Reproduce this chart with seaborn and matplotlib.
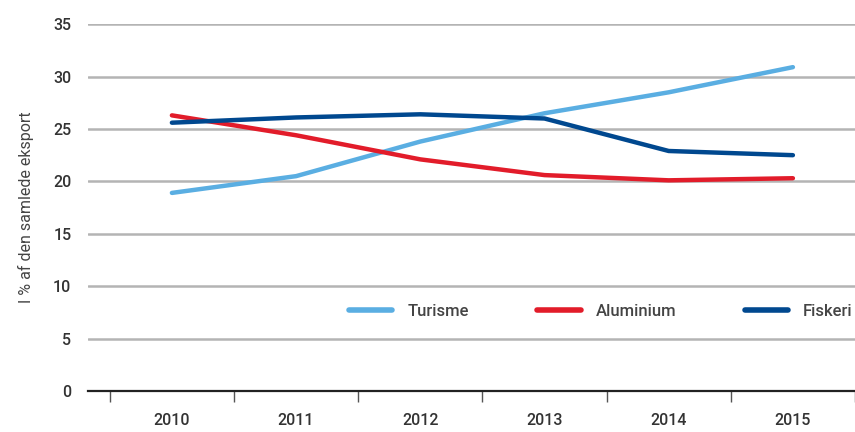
import matplotlib
matplotlib.use("Agg")
import matplotlib.pyplot as plt
import seaborn as sns
import pandas as pd
import numpy as np

years = ["2010", "2011", "2012", "2013", "2014", "2015"]
turisme = [18.9, 20.5, 23.8, 26.5, 28.5, 30.9]
aluminium = [26.3, 24.4, 22.1, 20.6, 20.1, 20.3]
fiskeri = [25.6, 26.1, 26.4, 26.0, 22.9, 22.5]
series_names = ["Turisme", "Aluminium", "Fiskeri"]
y_ticks = [0, 5, 10, 15, 20, 25, 30, 35]

colors = {"Turisme": "#5aaee2", "Aluminium": "#e21c2a", "Fiskeri": "#00488f"}

df = pd.DataFrame({
    "År": years * 3,
    "Andel": turisme + aluminium + fiskeri,
    "Sektor": [n for n in series_names for _ in years],
})
df["pos"] = df["År"].map({y: i for i, y in enumerate(years)})

sns.set_theme(style="white")
plt.rcParams["font.family"] = ["Roboto", "DejaVu Sans"]

fig = plt.figure(figsize=(8.55, 4.32), dpi=100)
ax = fig.add_axes([0.103, 0.095, 0.897, 0.849])

sns.lineplot(data=df, x="pos", y="Andel", hue="Sektor", palette=colors,
             hue_order=series_names, linewidth=3.2, ax=ax, legend=True,
             solid_capstyle="round")

ax.set_xlim(-0.675, 5.5)
ax.set_ylim(0, 35)
ax.set_yticks(y_ticks)
ax.set_yticklabels([str(t) for t in y_ticks], fontsize=11.5, color="#333333",
                   fontweight="medium")
ax.set_xticks(range(len(years)))
ax.set_xticklabels(years, fontsize=11.5, color="#333333", fontweight="medium")
ax.set_xticks(np.arange(-0.5, len(years), 1.0), minor=True)
ax.tick_params(axis="x", which="major", length=0, pad=16)
ax.tick_params(axis="x", which="minor", bottom=True, length=8, width=1.0,
               color="#555555", direction="out")
ax.tick_params(axis="y", length=0, pad=12)

for t in y_ticks[1:]:
    ax.axhline(t, color="#b4b4b4", linewidth=1.8, zorder=0)

for s in ["top", "right", "left"]:
    ax.spines[s].set_visible(False)
ax.spines["bottom"].set_color("#222222")
ax.spines["bottom"].set_linewidth(1.6)

ax.set_xlabel("")
ax.set_ylabel("I % af den samlede eksport", fontsize=11.5, color="#444444", labelpad=14)

leg = ax.legend(loc="center right", bbox_to_anchor=(1.012, 0.218), ncol=3, frameon=True,
                facecolor="white", edgecolor="white", framealpha=1.0,
                fontsize=12, handlelength=2.6, columnspacing=4.1, handletextpad=0.9,
                borderpad=0.2)
for line in leg.get_lines():
    line.set_linewidth(4)
for text in leg.get_texts():
    text.set_color("#444444")
    text.set_fontweight("medium")

fig.savefig("out.png", dpi=100)
